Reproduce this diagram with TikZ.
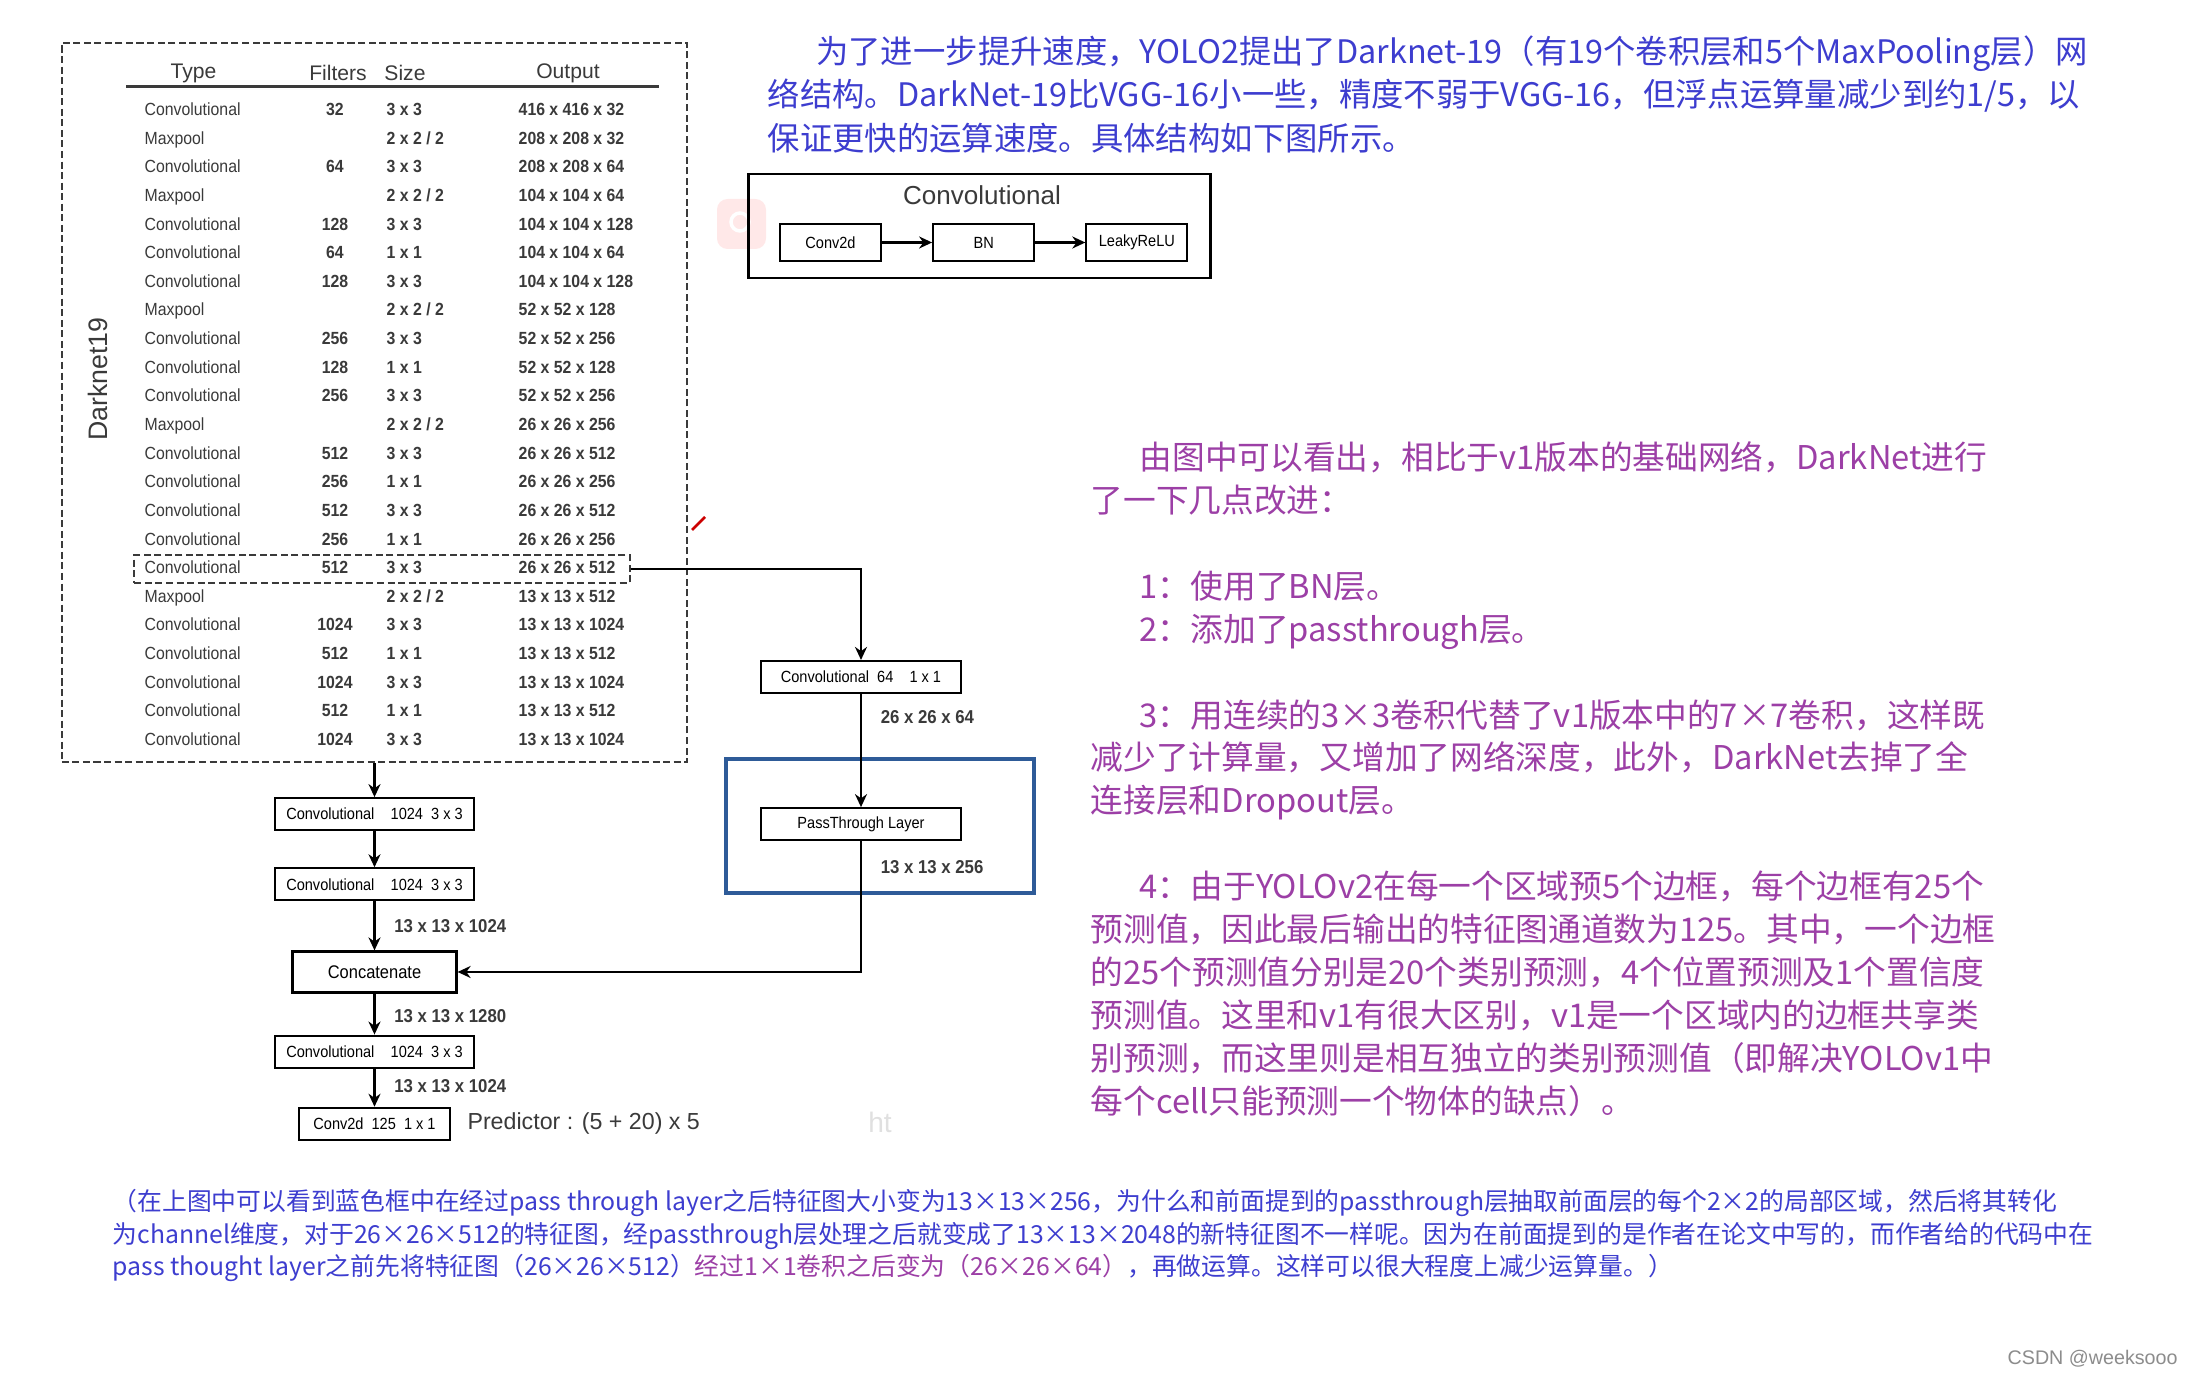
\documentclass[tikz,border=0pt]{standalone}
\usepackage{fontspec}
\setmainfont{Liberation Sans}
\newfontfamily\tabfont[FakeStretch=0.9]{Liberation Sans}
\newfontfamily\cjk{Noto Sans CJK SC}
\usepackage{xcolor}
\usepackage{tikz}
\usetikzlibrary{positioning,arrows.meta}

\definecolor{txtblue}{HTML}{3D3DCF}
\definecolor{txtpurple}{HTML}{9C3FA6}
\definecolor{ptblue}{HTML}{2E5B98}
\definecolor{tabgray}{HTML}{3A3A3A}

\newcommand\poolsz{2 x 2 / 2}
\newcommand\boxfs{\tabfont\fontsize{4.6}{5.5}\selectfont}
\newcommand\cellfs{\tabfont\fontsize{5}{6}\selectfont}

\begin{document}
\begin{tikzpicture}[
  x=0.01cm, y=-0.01cm,
  box/.style={draw, rectangle, line width=0.6pt, inner sep=1pt, minimum height=3.2mm, minimum width=19.9mm, font=\boxfs, align=center},
  dashbox/.style={draw=tabgray, dash pattern=on 2pt off 1pt, line width=0.5pt, inner sep=0pt},
  tcell/.style={inner sep=0pt, text height=3.6pt, text depth=1pt, text=tabgray, font=\cellfs},
  tnum/.style={tcell, font=\cellfs\bfseries},
  thead/.style={inner sep=0pt, text=tabgray, font=\fontsize{6}{7}\selectfont},
  lbl/.style={font=\tabfont\fontsize{5.3}{6}\selectfont\bfseries, text=tabgray, xshift=0.7mm},
  arr/.style={-{Stealth[length=1.3mm, width=1.2mm]}, line width=0.6pt},
  para/.style={inner sep=0pt, anchor=north west, align=left}
]
\useasboundingbox (0,0) rectangle (2199,1376);
\fill[white] (0,0) rectangle (2199,1376);

% Darknet19 table
\node[dashbox, minimum width=6.25cm, minimum height=7.19cm] (dark) at (374.5,402.5) {};
\node[rotate=90, text=tabgray, font=\fontsize{7.6}{9}\selectfont] (dklbl) at (98,379) {Darknet19};
\node[thead] (hty) at (193.5,73) {Type};
\node[thead] (hfi) at (338,73) {Filters};
\node[thead] (hsz) at (405,73) {Size};
\node[thead] (hou) at (568,73) {Output};
\draw[tabgray, line width=0.6pt] (126,86.5) -- (659,86.5);

\foreach \ty/\nf/\sz/\ou [count=\i] in {
  Convolutional/32/3 x 3/416 x 416 x 32,
  Maxpool//\poolsz/208 x 208 x 32,
  Convolutional/64/3 x 3/208 x 208 x 64,
  Maxpool//\poolsz/104 x 104 x 64,
  Convolutional/128/3 x 3/104 x 104 x 128,
  Convolutional/64/1 x 1/104 x 104 x 64,
  Convolutional/128/3 x 3/104 x 104 x 128,
  Maxpool//\poolsz/52 x 52 x 128,
  Convolutional/256/3 x 3/52 x 52 x 256,
  Convolutional/128/1 x 1/52 x 52 x 128,
  Convolutional/256/3 x 3/52 x 52 x 256,
  Maxpool//\poolsz/26 x 26 x 256,
  Convolutional/512/3 x 3/26 x 26 x 512,
  Convolutional/256/1 x 1/26 x 26 x 256,
  Convolutional/512/3 x 3/26 x 26 x 512,
  Convolutional/256/1 x 1/26 x 26 x 256,
  Convolutional/512/3 x 3/26 x 26 x 512,
  Maxpool//\poolsz/13 x 13 x 512,
  Convolutional/1024/3 x 3/13 x 13 x 1024,
  Convolutional/512/1 x 1/13 x 13 x 512,
  Convolutional/1024/3 x 3/13 x 13 x 1024,
  Convolutional/512/1 x 1/13 x 13 x 512,
  Convolutional/1024/3 x 3/13 x 13 x 1024}
{
  \pgfmathsetmacro{\ry}{111+(\i-1)*28.63}
  \node[tcell, anchor=west] (ty\i) at (144,\ry) {\ty};
  \node[tnum] (nf\i) at (335,\ry) {\nf};
  \node[tnum, anchor=west] (sz\i) at (386,\ry) {\sz};
  \node[tnum, anchor=west] (ou\i) at (518,\ry) {\ou};
}
\node[dashbox, minimum width=4.95cm, minimum height=2.8mm] (hl) at (382,569) {};

% head of the network
\node[box, below=3.4mm of dark] (c1) {Convolutional\quad 1024\enspace 3 x 3};
\node[box, below=3.6mm of c1] (c2) {Convolutional\quad 1024\enspace 3 x 3};
\node[box, below=4.9mm of c2, minimum width=16.4mm, minimum height=4.1mm, font=\tabfont\fontsize{5.2}{6}\selectfont] (cat) {Concatenate};
\node[box, below=4.1mm of cat] (c3) {Convolutional\quad 1024\enspace 3 x 3};
\node[box, below=3.8mm of c3, minimum width=15.1mm] (pred) {Conv2d\enspace 125\enspace 1 x 1};
\node[right=0.4mm of pred, text=tabgray, font=\fontsize{6.6}{8}\selectfont] (predtxt) {Predictor : (5 + 20) x 5};

% passthrough branch
\node[draw=ptblue, line width=1.3pt, minimum width=3.08cm, minimum height=1.34cm, inner sep=0pt] (ptframe) at (880,826) {};
\node[box, minimum width=20mm] (pt1) at (861,677) {Convolutional\enspace 64\quad 1 x 1};
\node[box, minimum width=20mm, below=11.3mm of pt1] (pt2) {PassThrough Layer};

\draw[arr] (dark) -- (c1);
\draw[arr] (c1) -- (c2);
\draw[arr] (c2) -- node[lbl, right] {13 x 13 x 1024} (cat);
\draw[arr] (cat) -- node[lbl, right, pos=0.55] {13 x 13 x 1280} (c3);
\draw[arr] (c3) -- node[lbl, right, pos=0.45] {13 x 13 x 1024} (pred);
\draw[arr] (hl.east) -| (pt1.north);
\draw[arr] (pt1) -- node[lbl, right, pos=0.2] {26 x 26 x 64} (pt2);
\draw[arr] (pt2.south) |- node[lbl, right, pos=0.1] {13 x 13 x 256} (cat.east);

% Convolutional block
\fill[red!9, rounded corners=3pt] (717,199) rectangle (766,249);
\draw[white, line width=1pt] (740,222) circle (9);
\node[draw, line width=0.8pt, minimum width=4.61cm, minimum height=1.04cm, inner sep=0pt] (convblk) at (979.5,226) {};
\node[text=tabgray, font=\fontsize{7.4}{9}\selectfont] (convttl) at (982,195) {Convolutional};
\node[box, minimum width=10.1mm, minimum height=3.7mm] (conv2d) at (830.5,242.5) {Conv2d};
\node[box, minimum width=10.1mm, minimum height=3.7mm, right=5mm of conv2d] (bn) {BN};
\node[box, minimum width=10.1mm, minimum height=3.7mm, right=5mm of bn] (relu) {LeakyReLU};
\draw[arr] (conv2d) -- (bn);
\draw[arr] (bn) -- (relu);

% pen mark
\draw[red!80!black, line width=0.8pt] (692,530) -- (705,517);

% texts
\node[para, text=txtblue, font=\cjk\fontsize{9.2}{12.38}\selectfont] (toptxt) at (767,35) {%
\hspace*{1.5em}为了进一步提升速度，YOLO2提出了Darknet-19（有19个卷积层和5个MaxPooling层）网\\
络结构。DarkNet-19比VGG-16小一些，精度不弱于VGG-16，但浮点运算量减少到约1/5，以\\
保证更快的运算速度。具体结构如下图所示。};

\node[para, text=txtpurple, font=\cjk\fontsize{9.3}{12.2}\selectfont] (righttxt) at (1090,441) {%
\hspace*{1.5em}由图中可以看出，相比于v1版本的基础网络，DarkNet进行\\
了一下几点改进：\\
\mbox{}\\
\hspace*{1.5em}1：使用了BN层。\\
\hspace*{1.5em}2：添加了passthrough层。\\
\mbox{}\\
\hspace*{1.5em}3：用连续的3×3卷积代替了v1版本中的7×7卷积，这样既\\
减少了计算量，又增加了网络深度，此外，DarkNet去掉了全\\
连接层和Dropout层。\\
\mbox{}\\
\hspace*{1.5em}4：由于YOLOv2在每一个区域预5个边框，每个边框有25个\\
预测值，因此最后输出的特征图通道数为125。其中，一个边框\\
的25个预测值分别是20个类别预测，4个位置预测及1个置信度\\
预测值。这里和v1有很大区别，v1是一个区域内的边框共享类\\
别预测，而这里则是相互独立的类别预测值（即解决YOLOv1中\\
每个cell只能预测一个物体的缺点）。};

\node[para, text=txtblue, font=\cjk\fontsize{7.05}{9.2}\selectfont] (bottxt) at (112,1189) {%
（在上图中可以看到蓝色框中在经过pass through layer之后特征图大小变为13×13×256，为什么和前面提到的passthrough层抽取前面层的每个2×2的局部区域，然后将其转化\\
为channel维度，对于26×26×512的特征图，经passthrough层处理之后就变成了13×13×2048的新特征图不一样呢。因为在前面提到的是作者在论文中写的，而作者给的代码中在\\
pass thought layer之前先将特征图（26×26×512）{\color{txtpurple}经过1×1卷积之后变为（26×26×64）}，再做运算。这样可以很大程度上减少运算量。）};

\node[text=black!12, font=\fontsize{8}{9}\selectfont] (ht) at (880,1122) {ht};
\node[anchor=east, text=black!45, font=\fontsize{5.6}{7}\selectfont] (mark) at (2190,1359) {CSDN @weeksooo};
\end{tikzpicture}
\end{document}
